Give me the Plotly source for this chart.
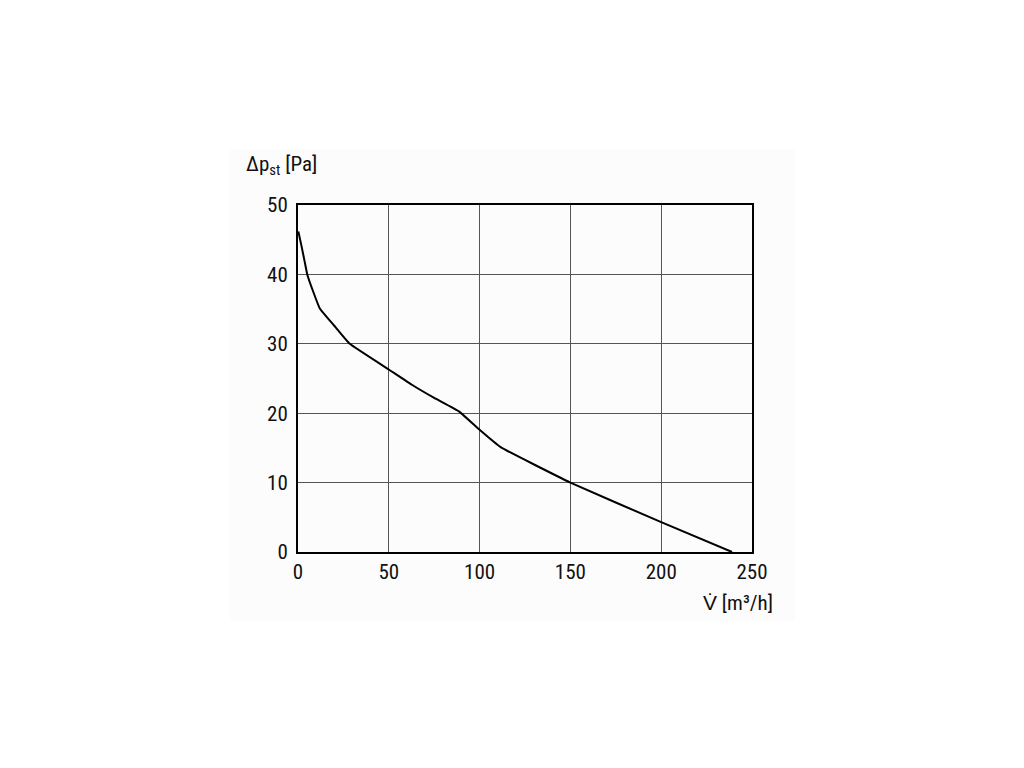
import plotly.graph_objects as go

flow = [0.2, 2.0, 3.7, 5.1, 8.4, 12.0, 20.0, 28.5, 50, 62.7, 75, 89, 100, 111.6, 150, 200, 239]
pressure = [46.2, 44.0, 41.8, 40.0, 37.5, 35.1, 32.6, 30.0, 26.3, 24.1, 22.2, 20.2, 17.6, 15.1, 10.0, 4.3, 0]

x_ticks = [0, 50, 100, 150, 200, 250]
y_ticks = [0, 10, 20, 30, 40, 50]

FONT = "Liberation Sans Narrow, Roboto Condensed, Arial Narrow, Liberation Sans, sans-serif"

fig = go.Figure()
fig.add_trace(go.Scatter(x=flow, y=pressure, mode="lines",
                         line=dict(color="black", width=2, shape="spline", smoothing=0.3),
                         showlegend=False, hoverinfo="skip"))

fig.update_layout(
    width=1016, height=760,
    margin=dict(l=290, r=272, t=197, b=216),
    paper_bgcolor="white", plot_bgcolor="white",
    font=dict(family=FONT, size=21, color="#111"),
    shapes=[dict(type="rect", xref="paper", yref="paper", layer="below",
                 x0=-0.15, x1=1.095, y0=-0.2, y1=1.16,
                 fillcolor="#fcfcfc", line=dict(width=0))],
    annotations=[
        dict(text="Δp<sub>st</sub> [Pa]", xref="paper", yref="paper",
             x=-0.12, y=1.115, xanchor="left", yanchor="middle",
             showarrow=False, font=dict(family=FONT, size=21, color="#111")),
        dict(text="V̇ [m³/h]", xref="paper", yref="paper",
             x=1.05, y=-0.148, xanchor="right", yanchor="middle",
             showarrow=False, font=dict(family=FONT, size=21, color="#111")),
    ],
)
fig.update_xaxes(range=[0, 250], tickvals=x_ticks, ticktext=[str(v) for v in x_ticks],
                 showgrid=True, gridcolor="#555", gridwidth=1,
                 showline=True, linecolor="black", linewidth=2, mirror=True,
                 ticks="", zeroline=False, fixedrange=True)
fig.update_yaxes(range=[0, 50], tickvals=y_ticks, ticktext=[str(v) for v in y_ticks],
                 showgrid=True, gridcolor="#555", gridwidth=1,
                 showline=True, linecolor="black", linewidth=2, mirror=True,
                 ticks="", ticklabelstandoff=4, zeroline=False, fixedrange=True)

fig.write_html("out.html")
